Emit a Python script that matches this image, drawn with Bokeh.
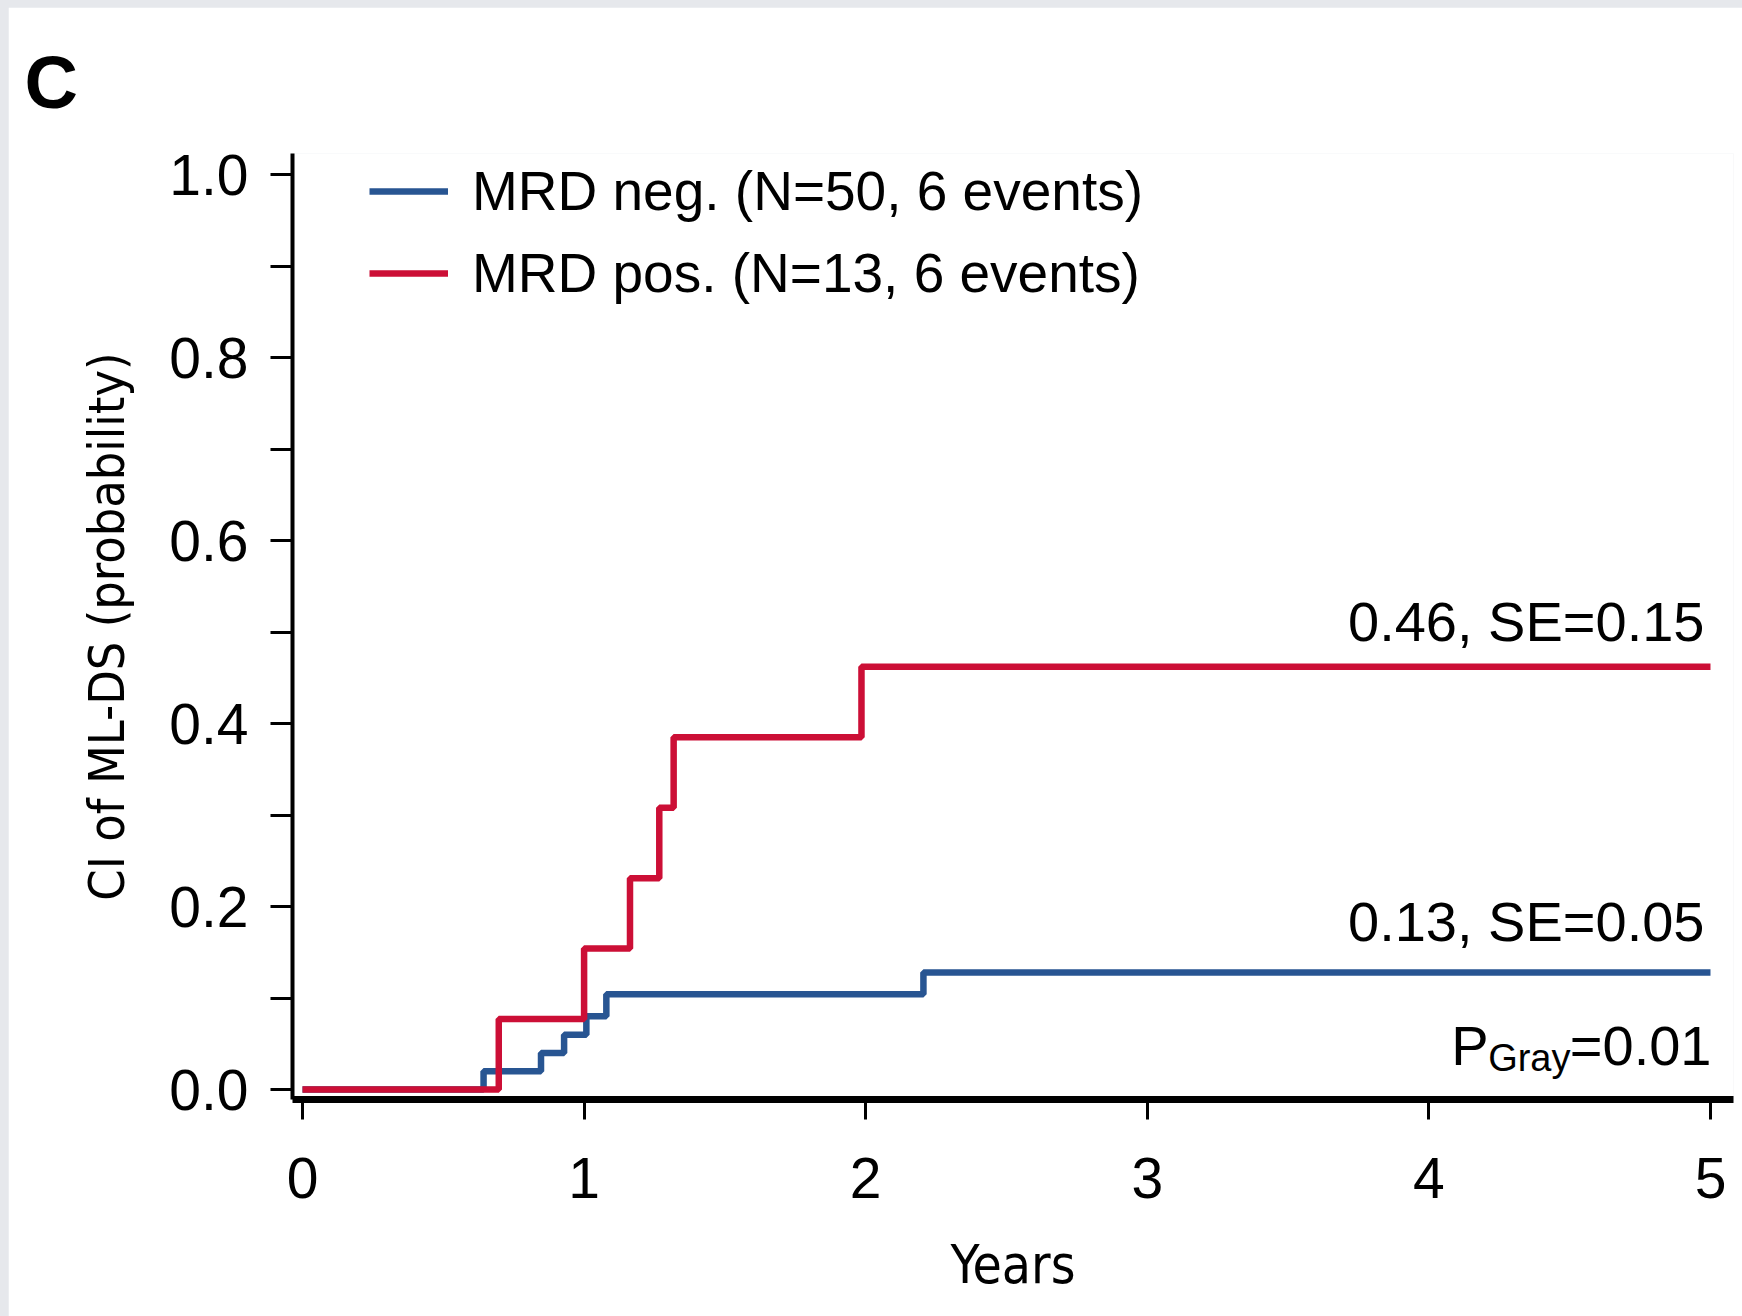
from bokeh.plotting import figure
from bokeh.models import Range1d, FixedTicker, Legend, LegendItem, Label, PrintfTickFormatter, Title
from bokeh.layouts import column
from bokeh.embed import file_html
from bokeh.resources import INLINE

# ---- data ----
neg_years = [0.0, 0.643, 0.847, 0.929, 1.008, 1.079, 2.205, 5.0]
neg_ci = [0.0, 0.020, 0.040, 0.060, 0.080, 0.104, 0.128, 0.128]
pos_years = [0.0, 0.697, 1.000, 1.163, 1.267, 1.318, 1.985, 5.0]
pos_ci = [0.0, 0.077, 0.154, 0.231, 0.308, 0.385, 0.462, 0.462]

series_names = ["MRD neg. (N=50, 6 events)", "MRD pos. (N=13, 6 events)"]
end_labels = ["0.13, SE=0.05", "0.46, SE=0.15"]
end_label_y = [0.184, 0.512]
x_ticks = [0, 1, 2, 3, 4, 5]
y_ticks = [0.0, 0.2, 0.4, 0.6, 0.8, 1.0]
y_minor = [0.1, 0.3, 0.5, 0.7, 0.9]

BLUE = "#285592"
RED = "#cc0f36"
FONT = "Liberation Sans"
NARROW = "Liberation Sans Narrow, DejaVu Sans Condensed, Liberation Sans"

p = figure(width=1734, height=1309, margin=(7, 0, 0, 8),
           output_backend="svg", toolbar_location=None,
           x_range=Range1d(-0.0355, 5.0817), y_range=Range1d(-0.0109, 1.0230),
           min_border_left=284, min_border_right=9, min_border_top=146,
           min_border_bottom=217)
p.background_fill_color = "white"
p.border_fill_color = "white"
p.outline_line_color = None
p.xgrid.visible = False
p.ygrid.visible = False

# panel letter as title
p.title = Title(text="C", align="left", offset=-268, standoff=60,
                text_font=FONT, text_font_size="74px", text_font_style="bold",
                text_color="black")

# axes
xa = p.xaxis[0]
xa.ticker = FixedTicker(ticks=x_ticks)
xa.axis_line_width = 7
xa.axis_line_color = "black"
xa.major_tick_line_width = 3
xa.major_tick_out = 20
xa.major_tick_in = 0
xa.minor_tick_line_color = None
xa.major_label_text_font = FONT
xa.major_label_text_font_size = "57px"
xa.major_label_text_color = "black"
xa.major_label_standoff = 38
xa.axis_label = "Years"
xa.axis_label_text_font = NARROW
xa.axis_label_text_font_size = "53px"
xa.axis_label_text_font_style = "normal"
xa.axis_label_text_color = "black"
xa.axis_label_standoff = 33

ya = p.yaxis[0]
ya.ticker = FixedTicker(ticks=y_ticks, minor_ticks=y_minor)
ya.formatter = PrintfTickFormatter(format="%.1f")
ya.axis_line_width = 4
ya.axis_line_color = "black"
ya.major_tick_line_width = 3
ya.major_tick_out = 22
ya.major_tick_in = 0
ya.minor_tick_line_width = 3
ya.minor_tick_line_color = "black"
ya.minor_tick_out = 22
ya.minor_tick_in = 0
ya.major_label_text_font = FONT
ya.major_label_text_font_size = "57px"
ya.major_label_text_color = "black"
ya.major_label_standoff = 22
ya.axis_label = "CI of ML-DS (probability)"
ya.axis_label_text_font = NARROW
ya.axis_label_text_font_size = "50px"
ya.axis_label_text_font_style = "normal"
ya.axis_label_text_color = "black"
ya.axis_label_standoff = 30

# curves
r_neg = p.step(neg_years, neg_ci, mode="after", line_color=BLUE, line_width=6.5)
r_pos = p.step(pos_years, pos_ci, mode="after", line_color=RED, line_width=6.5)

legend = Legend(items=[LegendItem(label=series_names[0], renderers=[r_neg]),
                       LegendItem(label=series_names[1], renderers=[r_pos])],
                location=(77, 794), orientation="vertical",
                glyph_width=79, glyph_height=62, label_height=62,
                label_standoff=24, spacing=18, padding=0, margin=0,
                label_text_font=FONT, label_text_font_size="55px",
                label_text_color="black",
                border_line_color=None, background_fill_alpha=0)
p.add_layout(legend)

# end-of-curve annotations
for txt, yv in zip(end_labels, end_label_y):
    p.add_layout(Label(x=5, y=yv, text=txt, text_align="right",
                       text_baseline="alphabetic", x_offset=-6,
                       text_font=FONT, text_font_size="56px", text_color="black"))

# P_Gray = 0.01
p.add_layout(Label(x=5, y=0.048, text="=0.01", text_align="right",
                   text_baseline="alphabetic", x_offset=1,
                   text_font=FONT, text_font_size="56px", text_color="black"))
p.add_layout(Label(x=5, y=0.034, text="Gray", text_align="right",
                   text_baseline="alphabetic", x_offset=-140,
                   text_font=FONT, text_font_size="38px", text_color="black"))
p.add_layout(Label(x=5, y=0.048, text="P", text_align="right",
                   text_baseline="alphabetic", x_offset=-222,
                   text_font=FONT, text_font_size="56px", text_color="black"))

layout = column(p, styles={"background-color": "#e6e8ec"})

open("out.html", "w").write(file_html(layout, INLINE))
